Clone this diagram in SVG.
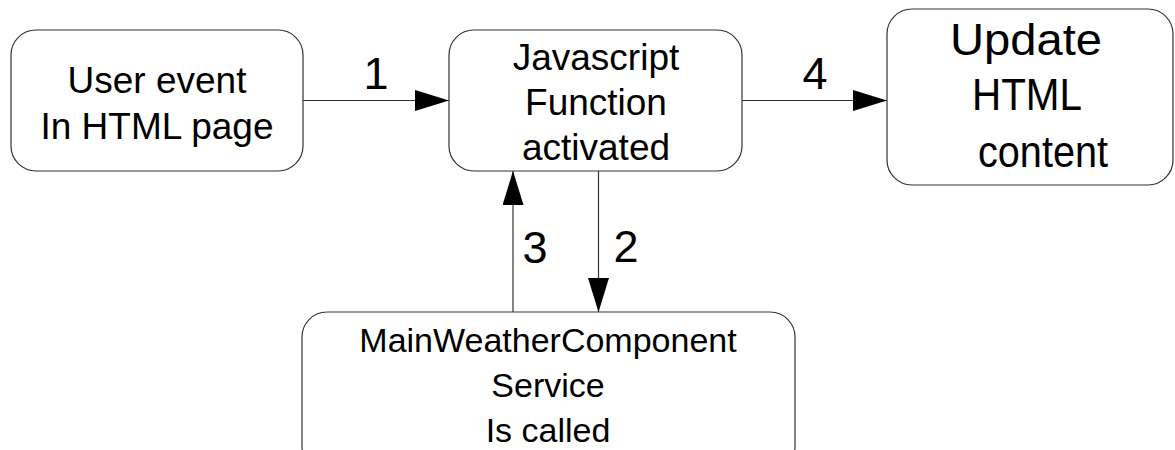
<svg xmlns="http://www.w3.org/2000/svg" width="1175" height="450" viewBox="0 0 1175 450">
<defs>
<style>
.box{fill:#fff;stroke:#333;stroke-width:1.2}
.t{font-family:Arial,'Liberation Sans',Helvetica,sans-serif;fill:#000;text-anchor:middle}
.edge{stroke:#333;stroke-width:1.2;fill:none}
.lbl{font-family:Arial,'Liberation Sans',Helvetica,sans-serif;fill:#000;font-size:45px;text-anchor:middle}
</style>
<marker id="ah" viewBox="0 0 34 21" refX="34" refY="10.5" markerWidth="34" markerHeight="21" markerUnits="userSpaceOnUse" orient="auto">
<path d="M0,0 L34,10.5 L0,21 Z" fill="#000"/>
</marker>
</defs>
<g id="connectors">
<line class="edge" x1="303" y1="100.5" x2="449" y2="100.5" marker-end="url(#ah)"/>
<line class="edge" x1="742" y1="100.5" x2="887" y2="100.5" marker-end="url(#ah)"/>
<line class="edge" x1="598.5" y1="171" x2="598.5" y2="312" marker-end="url(#ah)"/>
<line class="edge" x1="513" y1="312" x2="513" y2="171" marker-end="url(#ah)"/>
<text class="lbl" x="376" y="89">1</text>
<text class="lbl" x="815" y="89">4</text>
<text class="lbl" x="626" y="262">2</text>
<text class="lbl" x="535" y="263">3</text>
</g>
<g id="user-event">
<rect class="box" x="11" y="30" width="292" height="141" rx="25"/>
<text class="t" font-size="37" x="157" y="93">User event</text>
<text class="t" font-size="37" x="157" y="139">In HTML page</text>
</g>
<g id="js-function">
<rect class="box" x="449" y="30" width="293" height="141" rx="25"/>
<text class="t" font-size="37" x="596" y="70">Javascript</text>
<text class="t" font-size="37" x="596" y="115">Function</text>
<text class="t" font-size="37" x="596" y="160">activated</text>
</g>
<g id="update-html">
<rect class="box" x="887" y="9" width="286" height="176" rx="25"/>
<text class="t" font-size="45" x="1026" y="55" textLength="152" lengthAdjust="spacingAndGlyphs">Update</text>
<text class="t" font-size="45" x="1027" y="110" textLength="110" lengthAdjust="spacingAndGlyphs">HTML</text>
<text class="t" font-size="45" x="1043" y="167" textLength="130" lengthAdjust="spacingAndGlyphs">content</text>
</g>
<g id="service">
<rect class="box" x="302" y="312" width="493" height="160" rx="25"/>
<text class="t" font-size="34" x="548" y="352">MainWeatherComponent</text>
<text class="t" font-size="34" x="548" y="397">Service</text>
<text class="t" font-size="34" x="548" y="442">Is called</text>
</g>
</svg>
